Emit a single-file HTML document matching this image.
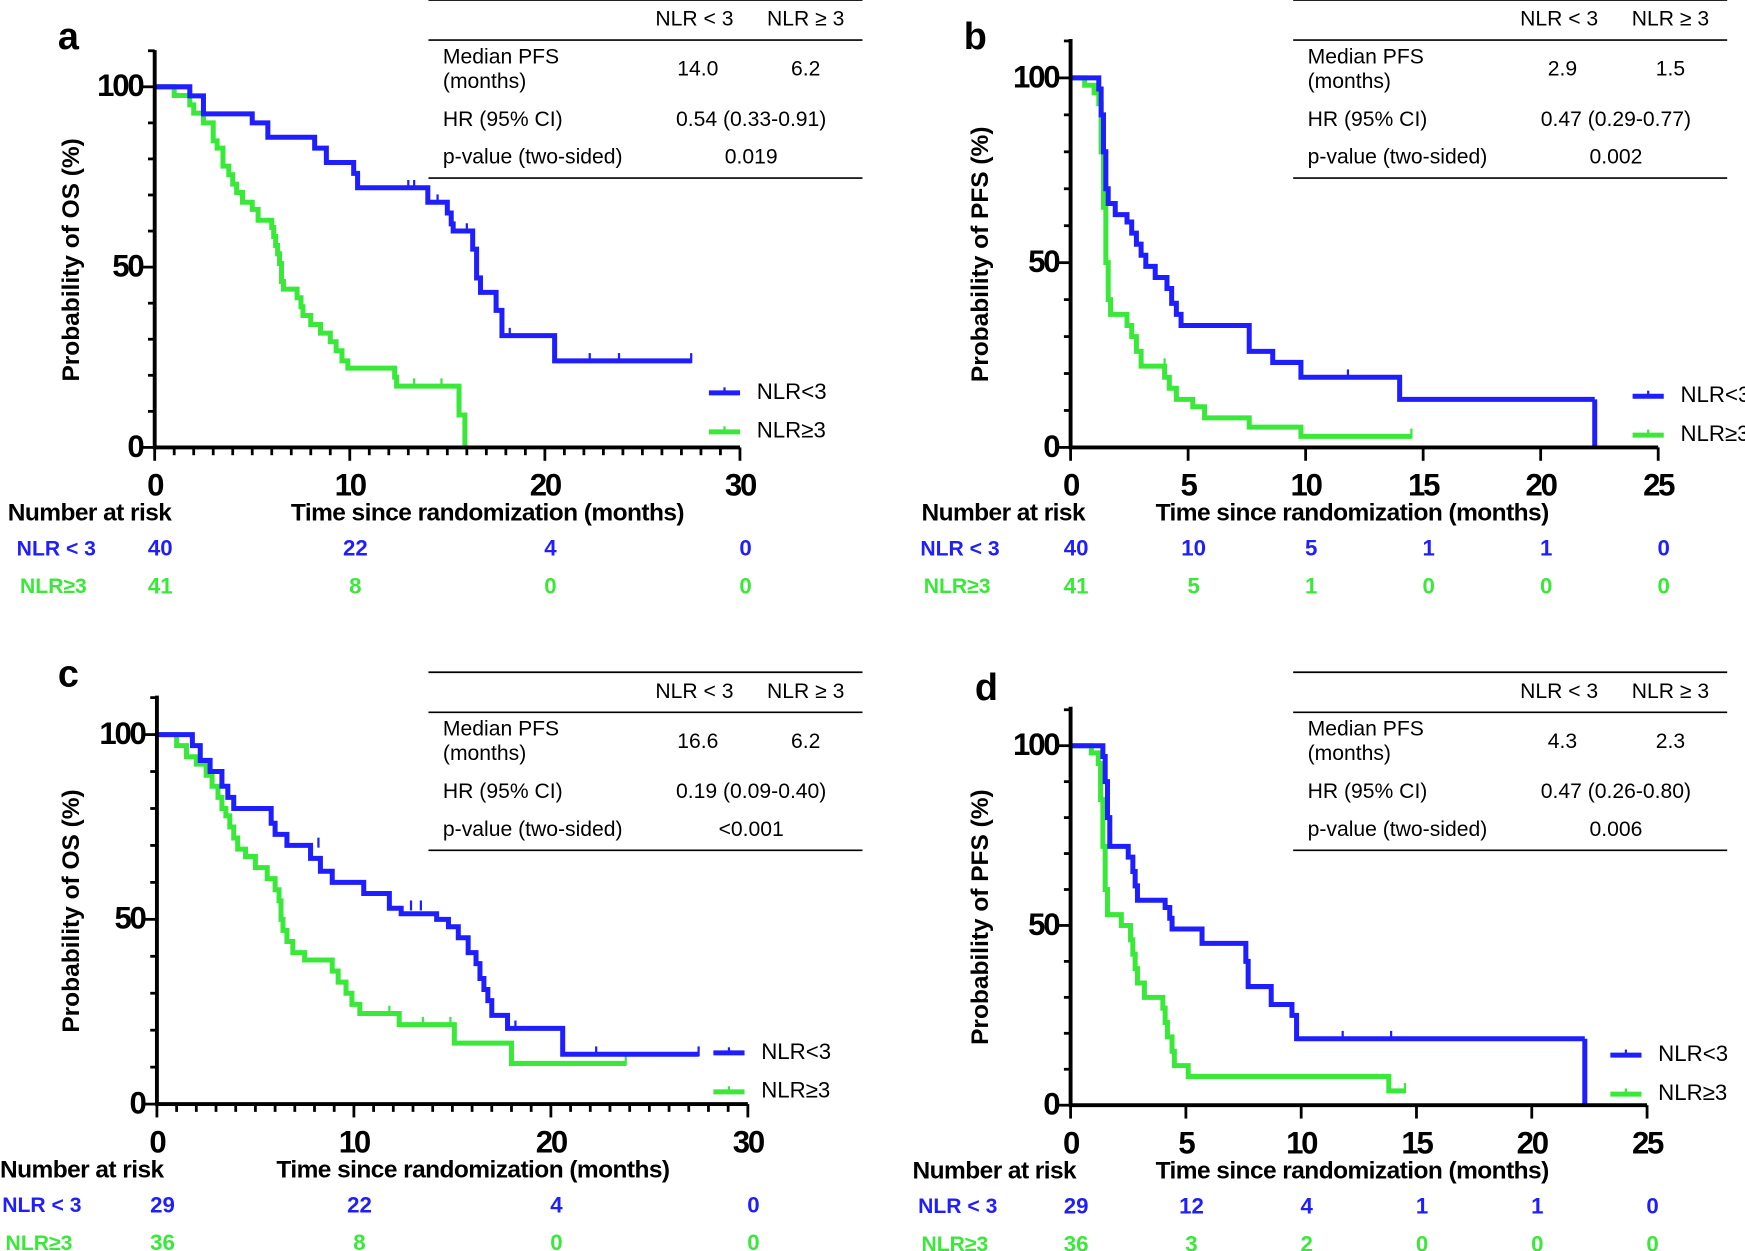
<!DOCTYPE html>
<html><head><meta charset="utf-8"><style>
html,body{margin:0;padding:0;background:#fff;}
svg{display:block;}
text{font-family:"Liberation Sans","Noto Sans CJK SC",sans-serif;}
</style></head><body>
<svg id="s" width="1745" height="1251" viewBox="0 0 1568 1124" preserveAspectRatio="none" xmlns="http://www.w3.org/2000/svg"></svg>
<script>
const S=document.getElementById('s');
const BL='#1e1eff',GR='#3ae83a';
let h='';
function T(x,y,t,o){o=o||{};h+=`<text x="${x}" y="${y}" font-size="${o.s||20}" font-weight="${o.w||'normal'}" fill="${o.c||'#000'}" text-anchor="${o.a||'start'}" dominant-baseline="middle" ${o.tr?`transform="${o.tr}"`:''} ${o.ls?`letter-spacing="${o.ls}"`:''}>${t}</text>`;}
function L(x1,y1,x2,y2,c,w){h+=`<line x1="${x1}" y1="${y1}" x2="${x2}" y2="${y2}" stroke="${c||'#000'}" stroke-width="${w||3}"/>`;}
function panel(p){
  const X=t=>p.x0+t*p.px, Y=v=>p.y0-v*p.py;
  T(p.lx,p.ly,p.letter,{s:34,w:'bold'});
  const tx=p.tx, ty=p.ty;
  L(tx,ty,tx+390,ty,'#000',1.5);L(tx,ty+36,tx+390,ty+36,'#000',1.5);L(tx,ty+160,tx+390,ty+160,'#000',1.5);
  T(tx+239,ty+18,'NLR &lt; 3',{s:19,a:'middle'});T(tx+339,ty+18,'NLR ≥ 3',{s:19,a:'middle'});
  T(tx+13,ty+52,'Median PFS',{s:19});T(tx+13,ty+74,'(months)',{s:19});
  T(tx+242,ty+63,p.m1,{s:19,a:'middle'});T(tx+339,ty+63,p.m2,{s:19,a:'middle'});
  T(tx+13,ty+108,'HR (95% CI)',{s:19});T(tx+290,ty+108,p.hr,{s:19,a:'middle'});
  T(tx+13,ty+142,'p-value (two-sided)',{s:19});T(tx+290,ty+142,p.pv,{s:19,a:'middle'});
  for(const [d,c] of [[p.g,GR],[p.b,BL]]){
    let s=`M${X(0)},${Y(100)}`;
    for(const [t,v] of d){s+=` H${X(t)} V${Y(v)}`;}
    s+=` H${X(d.end)}`;
    h+=`<path d="${s}" fill="none" stroke="${c}" stroke-width="4.5"/>`;
    for(const [t,v] of (d.cens||[]))L(X(t),Y(v)-7,X(t),Y(v)+2,c,2);
    if(d.zero)L(X(d.end),Y(d.last),X(d.end),Y(0),c,4.5);
  }
  L(p.x0,p.ytop,p.x0,p.y0+1.5,'#000',3.5);
  L(p.x0-1.5,p.y0,X(p.xmax),p.y0,'#000',3.5);
  for(let v=0;v<=110;v+=10){if(Y(v)<p.ytop-1)break;L(p.x0-(v%50?6:11),Y(v),p.x0,Y(v),'#000',2.5);}
  for(let t=0;t<=p.xmax;t+=p.minor){const maj=t%p.step===0;L(X(t),p.y0,X(t),p.y0+(maj?12:7),'#000',2.5);}
  for(const v of [0,50,100])T(p.x0-11,Y(v)+1,v,{s:28,w:'bold',a:'end',ls:-2});
  for(let t=0;t<=p.xmax;t+=p.step)T(X(t),p.y0+36,t,{s:28,w:'bold',a:'middle',ls:-2});
  T(p.ytx,(p.y0+p.ytop)/2+10,p.ytitle,{s:22,w:'bold',a:'middle',tr:`rotate(-90 ${p.ytx} ${(p.y0+p.ytop)/2+10})`});
  T(p.nax,p.y0+60,'Number at risk',{s:22,w:'bold',ls:-0.5});
  T(p.ttx,p.y0+60,'Time since randomization (months)',{s:22,w:'bold',a:'middle',ls:-0.5});
  T(p.rlx,p.y0+92,'NLR &lt; 3',{s:19,w:'bold',c:BL});T(p.rlx+3,p.y0+126,'NLR≥3',{s:19,w:'bold',c:GR});
  p.n1.forEach((n,i)=>T(X(i*p.step)+5,p.y0+92,n,{s:20,w:'bold',c:BL,a:'middle'}));
  p.n2.forEach((n,i)=>T(X(i*p.step)+5,p.y0+126,n,{s:20,w:'bold',c:GR,a:'middle'}));
  L(p.lgx,p.lgy,p.lgx+28,p.lgy,BL,4.5);L(p.lgx+14,p.lgy-5,p.lgx+14,p.lgy,BL,2);
  L(p.lgx,p.lgy+35,p.lgx+28,p.lgy+35,GR,4.5);L(p.lgx+14,p.lgy+30,p.lgx+14,p.lgy+35,GR,2);
  T(p.lgx+43,p.lgy,'NLR&lt;3',{s:20});T(p.lgx+43,p.lgy+35,'NLR≥3',{s:20});
}
function D(a,end,cens,zero){a.end=end;a.cens=cens;a.zero=zero;a.last=a[a.length-1][1];return a;}
panel({letter:'a',lx:52,ly:35,x0:139,y0:402,ytop:45,px:17.53,py:3.24,xmax:30,step:10,minor:1,
 tx:385,ty:0,m1:'14.0',m2:'6.2',hr:'0.54 (0.33-0.91)',pv:'0.019',ytx:65,ytitle:'Probability of OS (%)',
 nax:7,ttx:438,rlx:15,n1:[40,22,4,0],n2:[41,8,0,0],lgx:637,lgy:353,
 b:D([[1.8,97.5],[2.5,92.5],[5,90],[5.8,86],[8.2,83],[8.8,79],[10.2,76],[10.4,72],[14,68],[15,65],[15.2,62],[15.3,60],[16.3,55],[16.5,47],[16.7,43],[17.5,38],[17.8,31],[20.5,24]],27.5,[[13,72],[13.3,72],[14.5,68],[16,60],[18.2,31],[22.3,24],[23.8,24],[27.5,24]]),
 g:D([[1,97.6],[1.8,95],[2,92.7],[2.5,90],[3,85],[3.2,83],[3.5,78],[3.8,75.6],[4,73],[4.2,70.7],[4.5,68],[5,66],[5.3,63],[6,61],[6.1,58.5],[6.2,56],[6.3,53.7],[6.4,51],[6.5,46],[6.6,43.9],[7.3,41.5],[7.5,39],[7.6,36.6],[8,34.1],[8.5,31.7],[9,29.3],[9.3,26.8],[9.6,24],[9.9,22],[12.3,19.5],[12.4,17],[15.6,9],[15.9,0]],15.9,[[13.3,17],[14.7,17]])});
panel({letter:'b',lx:866,ly:35,x0:962,y0:402,ytop:35,px:21.12,py:3.32,xmax:25,step:5,minor:5,
 tx:1162,ty:0,m1:'2.9',m2:'1.5',hr:'0.47 (0.29-0.77)',pv:'0.002',ytx:882,ytitle:'Probability of PFS (%)',
 nax:828,ttx:1215,rlx:827,n1:[40,10,5,1,1,0],n2:[41,5,1,0,0,0],lgx:1467,lgy:356,
 b:D([[1.2,97],[1.3,90],[1.4,80],[1.5,70],[1.6,66],[1.9,63],[2.4,61],[2.6,58],[2.8,55],[3,52],[3.2,49],[3.6,46],[4.1,43],[4.3,39],[4.5,36],[4.7,33],[7.6,26],[8.6,23],[9.8,19],[14,13]],22.3,[[11.8,19]],true),
 g:D([[0.6,98],[1,96],[1.2,93],[1.3,80],[1.4,65],[1.5,50],[1.6,40],[1.7,36],[2.4,33],[2.6,30],[2.8,26],[3,22],[4,19],[4.2,16],[4.5,13],[5.2,11],[5.7,8],[7.6,5.5],[9.8,3]],14.5,[[4,22],[14.5,3]])});
panel({letter:'c',lx:52,ly:608,x0:141,y0:992,ytop:625,px:17.7,py:3.32,xmax:30,step:10,minor:1,
 tx:385,ty:604,m1:'16.6',m2:'6.2',hr:'0.19 (0.09-0.40)',pv:'&lt;0.001',ytx:65,ytitle:'Probability of OS (%)',
 nax:0,ttx:425,rlx:2,n1:[29,22,4,0],n2:[36,8,0,0],lgx:641,lgy:946,
 b:D([[1.8,97],[2.2,93],[2.7,90],[3.3,86],[3.6,83],[3.9,80],[5.8,76],[6,73],[6.6,70],[7.8,66.5],[8.3,63],[8.9,60],[10.5,57],[11.8,53],[12.4,51.5],[14.2,50],[14.8,48],[15.3,45],[15.8,41],[16.2,38],[16.4,34],[16.6,31],[16.8,28],[17,24],[17.8,20.5],[20.6,13.5]],27.5,[[8.2,70],[12.9,53],[13.4,53],[18.2,20.5],[22.3,13.5],[27.5,13.5]]),
 g:D([[1,97],[1.5,94],[2,92],[2.5,89],[2.8,86],[3.1,83],[3.3,80],[3.5,78],[3.7,75],[3.9,72],[4.1,69],[4.5,67],[5,64],[5.6,61],[6,58],[6.2,55],[6.3,50],[6.4,47],[6.6,44],[6.9,41],[7.5,39],[8.9,36],[9.2,33],[9.6,30],[9.9,27],[10.3,24.5],[12.3,21.5],[15.1,16.5],[18,11]],23.8,[[11.8,24.5],[13.5,21.5],[14.9,21.5],[23.8,11]])});
panel({letter:'d',lx:876,ly:620,x0:962,y0:993,ytop:635,px:20.72,py:3.23,xmax:25,step:5,minor:5,
 tx:1162,ty:604,m1:'4.3',m2:'2.3',hr:'0.47 (0.26-0.80)',pv:'0.006',ytx:882,ytitle:'Probability of PFS (%)',
 nax:820,ttx:1215,rlx:825,n1:[29,12,4,1,1,0],n2:[36,3,2,0,0,0],lgx:1447,lgy:948,
 b:D([[1.4,97],[1.5,90],[1.6,80],[1.7,72],[2.5,69],[2.7,65],[2.8,61],[2.9,57],[4.1,55],[4.3,52],[4.4,49],[5.7,45],[7.6,40],[7.7,33],[8.7,28],[9.6,25],[9.8,18.5]],22.3,[[11.8,18.5],[13.9,18.5]],true),
 g:D([[0.9,98],[1.2,95],[1.3,85],[1.4,72],[1.5,60],[1.6,53],[2.2,50],[2.6,46],[2.7,42],[2.8,38],[2.9,34],[3.2,30],[4,27],[4.1,23],[4.2,19],[4.4,15],[4.5,11],[5.1,8],[13.8,4]],14.5,[[14.5,4]])});
S.innerHTML=h;
</script>
</body></html>
